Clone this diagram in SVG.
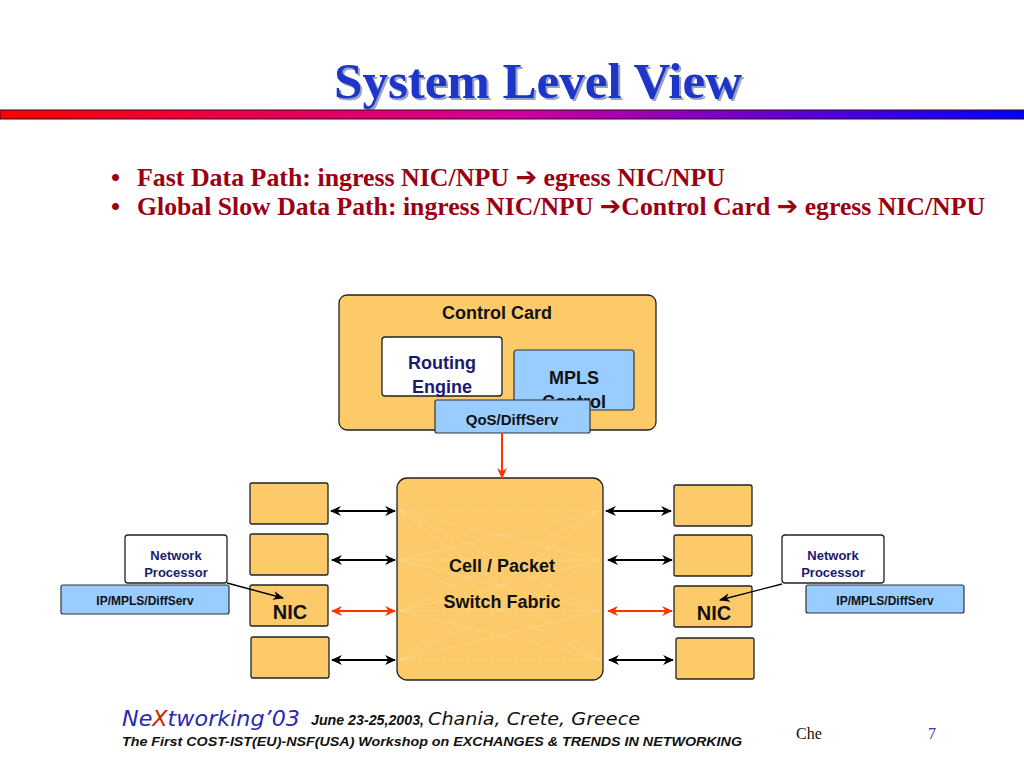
<svg xmlns="http://www.w3.org/2000/svg" width="1024" height="768" viewBox="0 0 1024 768">
<defs>
<linearGradient id="bar" x1="0" y1="0" x2="1" y2="0">
<stop offset="0" stop-color="#ff0000"/>
<stop offset="0.5" stop-color="#d0009a"/>
<stop offset="1" stop-color="#0000ff"/>
</linearGradient>
<marker id="ab" viewBox="0 0 10 10" refX="9" refY="5" markerWidth="11" markerHeight="11" orient="auto-start-reverse" markerUnits="userSpaceOnUse">
<path d="M0,0.5 L10,5 L0,9.5 L3,5 z" fill="#000"/>
</marker>
<marker id="ar" viewBox="0 0 10 10" refX="9" refY="5" markerWidth="11" markerHeight="11" orient="auto-start-reverse" markerUnits="userSpaceOnUse">
<path d="M0,0.5 L10,5 L0,9.5 L3,5 z" fill="#ff3300"/>
</marker>
<marker id="as" viewBox="0 0 10 10" refX="9" refY="5" markerWidth="11" markerHeight="11" orient="auto" markerUnits="userSpaceOnUse">
<path d="M0,1 L10,5 L0,9 L3,5 z" fill="#000"/>
</marker>
</defs>
<style>
.gold{fill:#fdca6a;stroke:#222;stroke-width:1.3}
.blue{fill:#99ccff;stroke:#333;stroke-width:1.2}
.wht{fill:#fff;stroke:#222;stroke-width:1.3}
.lbl{font-family:"Liberation Sans",Arial,sans-serif;font-weight:bold;text-anchor:middle}
.navy{fill:#1a1a6e}
.blk{fill:#111}
.bl{stroke:#000;stroke-width:2;fill:none}
.rd{stroke:#ff3300;stroke-width:2;fill:none}
.mesh line{stroke:#fff;stroke-opacity:0.45;stroke-width:1;stroke-dasharray:1 2}
.bul{font-family:"Liberation Serif","Times New Roman",serif;font-weight:bold;font-size:26px;fill:#9b0012}
.arr{font-family:"DejaVu Sans",sans-serif;font-weight:bold}
</style>
<rect width="1024" height="768" fill="#fff"/>
<text x="540" y="100" font-family="Liberation Serif,serif" font-weight="bold" font-size="51" fill="#9aa3c0" text-anchor="middle">System Level View</text>
<text x="538" y="98" font-family="Liberation Serif,serif" font-weight="bold" font-size="51" fill="#1e36c8" text-anchor="middle">System Level View</text>
<rect x="0" y="110" width="1024" height="9" fill="url(#bar)" stroke="#400020" stroke-width="1"/>
<text x="111" y="186" class="bul">•</text>
<text x="137" y="186" class="bul" textLength="588" lengthAdjust="spacingAndGlyphs">Fast Data Path:  ingress NIC/NPU <tspan class="arr">➔</tspan> egress NIC/NPU</text>
<text x="111" y="215" class="bul">•</text>
<text x="137" y="215" class="bul" textLength="848" lengthAdjust="spacingAndGlyphs">Global Slow Data Path: ingress NIC/NPU <tspan class="arr">➔</tspan>Control Card <tspan class="arr">➔</tspan> egress NIC/NPU</text>
<g id="control-card">
<rect x="339" y="295" width="317" height="135" rx="8" class="gold"/>
<text x="497" y="319" class="lbl blk" font-size="18">Control Card</text>
</g>
<g id="routing-engine">
<rect x="382" y="337" width="120" height="59" rx="3" class="wht"/>
<text x="442" y="369" class="lbl navy" font-size="18">Routing</text>
<text x="442" y="393" class="lbl navy" font-size="18">Engine</text>
</g>
<g id="mpls-control">
<rect x="514" y="350" width="120" height="60" rx="3" class="blue"/>
<text x="574" y="384" class="lbl blk" font-size="18">MPLS</text>
<text x="574" y="408" class="lbl blk" font-size="18">Control</text>
</g>
<g id="qos">
<rect x="435" y="400" width="155" height="33" rx="2" class="blue"/>
<text x="512" y="425" class="lbl blk" font-size="15">QoS/DiffServ</text>
</g>
<g id="fabric">
<rect x="397" y="478" width="206" height="202" rx="10" class="gold"/>
<g class="mesh">
<line x1="400" y1="511" x2="600" y2="511"/><line x1="400" y1="511" x2="600" y2="560"/><line x1="400" y1="511" x2="600" y2="611"/><line x1="400" y1="511" x2="600" y2="660"/>
<line x1="400" y1="560" x2="600" y2="511"/><line x1="400" y1="560" x2="600" y2="560"/><line x1="400" y1="560" x2="600" y2="611"/><line x1="400" y1="560" x2="600" y2="660"/>
<line x1="400" y1="611" x2="600" y2="511"/><line x1="400" y1="611" x2="600" y2="560"/><line x1="400" y1="611" x2="600" y2="611"/><line x1="400" y1="611" x2="600" y2="660"/>
<line x1="400" y1="660" x2="600" y2="511"/><line x1="400" y1="660" x2="600" y2="560"/><line x1="400" y1="660" x2="600" y2="611"/><line x1="400" y1="660" x2="600" y2="660"/>
</g>
<text x="502" y="572" class="lbl blk" font-size="18">Cell / Packet</text>
<text x="502" y="608" class="lbl blk" font-size="18">Switch Fabric</text>
</g>
<g id="left-port-1"><rect x="250" y="483" width="78" height="41" rx="2" class="gold"/></g>
<g id="left-port-2"><rect x="250" y="534" width="78" height="41" rx="2" class="gold"/></g>
<g id="left-nic"><rect x="250" y="585" width="78" height="41" rx="2" class="gold"/>
<text x="290" y="619" class="lbl blk" font-size="20">NIC</text></g>
<g id="left-port-4"><rect x="251" y="637" width="78" height="41" rx="2" class="gold"/></g>
<g id="right-port-1"><rect x="674" y="485" width="78" height="41" rx="2" class="gold"/></g>
<g id="right-port-2"><rect x="674" y="535" width="78" height="41" rx="2" class="gold"/></g>
<g id="right-nic"><rect x="674" y="586" width="78" height="41" rx="2" class="gold"/>
<text x="714" y="620" class="lbl blk" font-size="20">NIC</text></g>
<g id="right-port-4"><rect x="676" y="638" width="78" height="41" rx="2" class="gold"/></g>
<g id="left-np">
<rect x="125" y="535" width="102" height="48" rx="3" class="wht"/>
<text x="176" y="560" class="lbl navy" font-size="13">Network</text>
<text x="176" y="577" class="lbl navy" font-size="13">Processor</text>
</g>
<g id="left-ip">
<rect x="61" y="585" width="168" height="29" rx="2" class="blue"/>
<text x="145" y="605" class="lbl blk" font-size="12">IP/MPLS/DiffServ</text>
</g>
<g id="right-np">
<rect x="782" y="535" width="102" height="48" rx="3" class="wht"/>
<text x="833" y="560" class="lbl navy" font-size="13">Network</text>
<text x="833" y="577" class="lbl navy" font-size="13">Processor</text>
</g>
<g id="right-ip">
<rect x="806" y="585" width="158" height="28" rx="2" class="blue"/>
<text x="885" y="605" class="lbl blk" font-size="12">IP/MPLS/DiffServ</text>
</g>
<g id="connectors">
<line x1="502" y1="433" x2="502" y2="478" class="rd" marker-end="url(#ar)"/>
<line x1="331" y1="511" x2="395" y2="511" class="bl" marker-start="url(#ab)" marker-end="url(#ab)"/>
<line x1="332" y1="560" x2="395" y2="560" class="bl" marker-start="url(#ab)" marker-end="url(#ab)"/>
<line x1="332" y1="611" x2="395" y2="611" class="rd" marker-start="url(#ar)" marker-end="url(#ar)"/>
<line x1="332" y1="660" x2="395" y2="660" class="bl" marker-start="url(#ab)" marker-end="url(#ab)"/>
<line x1="606" y1="511" x2="671" y2="511" class="bl" marker-start="url(#ab)" marker-end="url(#ab)"/>
<line x1="608" y1="560" x2="672" y2="560" class="bl" marker-start="url(#ab)" marker-end="url(#ab)"/>
<line x1="608" y1="611" x2="672" y2="611" class="rd" marker-start="url(#ar)" marker-end="url(#ar)"/>
<line x1="609" y1="660" x2="673" y2="660" class="bl" marker-start="url(#ab)" marker-end="url(#ab)"/>
<line x1="227" y1="583" x2="283" y2="598" stroke="#000" stroke-width="1.3" marker-end="url(#as)"/>
<line x1="782" y1="584" x2="720" y2="600" stroke="#000" stroke-width="1.3" marker-end="url(#as)"/>
</g>
<text x="122" y="726" font-family="DejaVu Sans,sans-serif" font-style="italic" font-size="22" fill="#2a2ab0" textLength="178" lengthAdjust="spacingAndGlyphs">Ne<tspan fill="#cc2200">X</tspan>tworking’03</text>
<text x="311" y="725" font-family="Liberation Sans,sans-serif" font-style="italic" font-weight="bold" font-size="14" fill="#111" textLength="113" lengthAdjust="spacingAndGlyphs">June 23-25,2003,</text>
<text x="428" y="725" font-family="DejaVu Sans,sans-serif" font-style="italic" font-size="18" fill="#111" textLength="212" lengthAdjust="spacingAndGlyphs">Chania, Crete, Greece</text>
<text x="122" y="746" font-family="Liberation Sans,sans-serif" font-style="italic" font-weight="bold" font-size="13" fill="#111" textLength="620" lengthAdjust="spacingAndGlyphs">The First COST-IST(EU)-NSF(USA) Workshop on EXCHANGES &amp; TRENDS IN NETWORKING</text>
<text x="796" y="739" font-family="Liberation Serif,serif" font-size="16" fill="#111">Che</text>
<text x="928" y="739" font-family="Liberation Serif,serif" font-size="16" fill="#3333bb">7</text>
</svg>
